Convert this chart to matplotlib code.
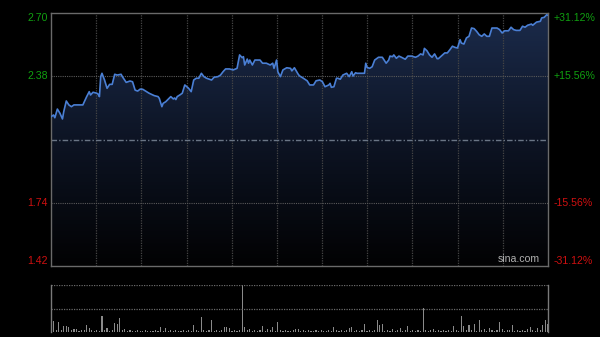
import numpy as np
import matplotlib
matplotlib.use("Agg")
import matplotlib.pyplot as plt
from matplotlib.colors import LinearSegmentedColormap

# minute of session / price
times = [0, 2, 3, 5, 7, 9, 10, 12, 14, 16, 18, 21, 25, 28, 30, 31, 33, 36, 37, 38,
         39, 40, 42, 44, 46, 48, 50, 52, 55, 56, 59, 62, 64, 66, 68, 70, 72, 75, 77, 81,
         84, 85, 87, 88, 90, 94, 96, 97, 98, 99, 101, 103, 105, 108, 110, 112, 114, 116, 118, 120,
         122, 126, 128, 131, 133, 135, 137, 140, 143, 146, 148, 150, 151, 152, 154, 155, 156, 158, 160, 164,
         166, 169, 172, 174, 175, 177, 178, 180, 182, 185, 188, 189, 191, 194, 195, 198, 201, 203, 206, 208,
         211, 213, 215, 218, 219, 220, 222, 224, 225, 227, 229, 232, 234, 236, 237, 239, 240, 246, 247, 248,
         250, 252, 254, 257, 260, 261, 263, 265, 266, 268, 269, 271, 273, 275, 278, 280, 283, 286, 288, 290,
         292, 293, 295, 297, 299, 301, 303, 304, 307, 309, 311, 313, 315, 317, 319, 321, 322, 324, 326, 328,
         330, 332, 334, 336, 338, 340, 342, 344, 346, 350, 352, 354, 356, 359, 361, 363, 365, 368, 370, 372,
         374, 377, 378, 381, 384, 385, 387, 389, 390]
prices = [2.175, 2.184, 2.170, 2.214, 2.193, 2.164, 2.201, 2.255, 2.235, 2.226, 2.235, 2.235, 2.235, 2.277, 2.302, 2.285, 2.299, 2.294, 2.289, 2.277,
          2.378, 2.395, 2.361, 2.319, 2.339, 2.339, 2.390, 2.386, 2.390, 2.378, 2.349, 2.356, 2.352, 2.310, 2.305, 2.315, 2.314, 2.302, 2.294, 2.282,
          2.277, 2.268, 2.226, 2.243, 2.251, 2.277, 2.265, 2.270, 2.262, 2.277, 2.285, 2.294, 2.336, 2.319, 2.302, 2.361, 2.370, 2.370, 2.395, 2.378,
          2.370, 2.361, 2.375, 2.378, 2.386, 2.403, 2.417, 2.417, 2.412, 2.420, 2.488, 2.474, 2.479, 2.437, 2.467, 2.446, 2.462, 2.437, 2.462, 2.462,
          2.446, 2.446, 2.437, 2.446, 2.420, 2.462, 2.403, 2.378, 2.412, 2.423, 2.420, 2.407, 2.423, 2.390, 2.382, 2.370, 2.357, 2.336, 2.336, 2.357,
          2.361, 2.352, 2.327, 2.336, 2.344, 2.324, 2.327, 2.370, 2.370, 2.365, 2.386, 2.395, 2.378, 2.403, 2.381, 2.398, 2.395, 2.395, 2.446, 2.425,
          2.420, 2.428, 2.462, 2.476, 2.476, 2.466, 2.446, 2.462, 2.482, 2.479, 2.488, 2.471, 2.482, 2.476, 2.466, 2.482, 2.482, 2.476, 2.482, 2.493,
          2.488, 2.521, 2.509, 2.488, 2.476, 2.493, 2.469, 2.469, 2.486, 2.498, 2.498, 2.514, 2.532, 2.526, 2.523, 2.565, 2.548, 2.543, 2.574, 2.582,
          2.624, 2.621, 2.607, 2.590, 2.582, 2.594, 2.582, 2.582, 2.624, 2.624, 2.616, 2.599, 2.610, 2.610, 2.628, 2.616, 2.612, 2.612, 2.633, 2.628,
          2.638, 2.644, 2.638, 2.654, 2.658, 2.675, 2.678, 2.691, 2.688]

# volume, one bar per 2 minutes
volumes = [12, 11, 2, 10, 2, 6, 6, 5, 2, 3, 3, 1, 2, 2, 7, 4, 2, 1, 2, 1,
           16, 2, 4, 1, 2, 9, 8, 14, 2, 3, 1, 2, 1, 1, 2, 1, 1, 2, 1, 1,
           1, 2, 1, 5, 1, 4, 1, 2, 1, 2, 1, 1, 2, 1, 2, 1, 7, 2, 1, 15,
           2, 1, 2, 12, 1, 2, 1, 2, 5, 5, 4, 1, 2, 1, 2, 48, 5, 2, 3, 1,
           2, 1, 2, 6, 1, 3, 2, 5, 1, 10, 2, 1, 2, 1, 1, 2, 3, 3, 1, 2,
           1, 2, 1, 1, 2, 1, 2, 1, 1, 2, 1, 5, 2, 1, 2, 1, 2, 4, 5, 1,
           2, 1, 2, 8, 1, 2, 1, 2, 12, 7, 8, 1, 2, 1, 3, 1, 2, 4, 1, 2,
           6, 1, 2, 1, 2, 1, 25, 2, 1, 2, 3, 1, 2, 1, 2, 1, 2, 1, 6, 2,
           1, 16, 6, 2, 7, 2, 8, 1, 12, 2, 3, 1, 4, 2, 1, 2, 10, 3, 1, 2,
           2, 7, 1, 2, 1, 2, 1, 3, 5, 2, 1, 4, 2, 7, 12, 8]

prev_close = 2.06
y_ticks = [2.70, 2.38, 1.74, 1.42]
pct_labels = ["+31.12%", "+15.56%", "-15.56%", "-31.12%"]
session = 390

GREEN = "#10a010"
RED = "#d01010"

fig = plt.figure(figsize=(6, 3.37), dpi=100, facecolor="black")
ax = fig.add_axes([51 / 600, 1 - 266 / 337, 497 / 600, 253 / 337])
axv = fig.add_axes([51 / 600, 1 - 332 / 337, 497 / 600, 47 / 337])

ax.set_facecolor("black")
ax.set_xlim(0, session)
ax.set_ylim(1.42, 2.70)

# gradient fill under the line
cmap = LinearSegmentedColormap.from_list("fill", ["#020203", "#0d1424", "#1b2b4b"])
grad = np.linspace(0, 1, 256).reshape(-1, 1)
img = ax.imshow(grad, extent=[0, session, 1.42, 2.70], origin="lower",
                aspect="auto", cmap=cmap, zorder=1)
poly = ax.fill_between(times, prices, 1.42, color="none", lw=0)
img.set_clip_path(poly.get_paths()[0], transform=ax.transData)

# grid
for k in range(1, 11):
    ax.axvline(session * k / 11, color="#454545", lw=0.9, ls=(0, (1, 1)), zorder=2)
for yv in [2.38, 1.74]:
    ax.axhline(yv, color="#5a5a5a", lw=0.8, ls=(0, (1, 1)), zorder=2)
ax.axhline(prev_close, color="#6a7585", lw=1.0, ls=(0, (4, 1.5, 1, 1.5)), zorder=2)

ax.plot(times, prices, color="#4a7fd4", lw=1.2, zorder=3)

ax.set_xticks([])
ax.set_yticks([])
for s in ax.spines.values():
    s.set_color("#6a6a6a")
    s.set_linewidth(1)

for i, (v, p) in enumerate(zip(y_ticks, pct_labels)):
    c = GREEN if v > prev_close else RED
    va = "top" if i == 0 else ("bottom" if i == 3 else "center")
    ax.text(-0.006, v, f"{v:.2f}", transform=ax.get_yaxis_transform(),
            ha="right", va=va, color=c, fontsize=7.6, family="Liberation Sans")
    ax.text(1.012, v, p, transform=ax.get_yaxis_transform(),
            ha="left", va=va, color=c, fontsize=7.6, family="Liberation Sans")

ax.text(0.983, 0.008, "sina.com", transform=ax.transAxes, ha="right", va="bottom",
        color="#b0b0b0", fontsize=7.6, family="Liberation Sans", zorder=4)

# volume panel
axv.set_facecolor("black")
vol_x = np.arange(len(volumes)) * 2
axv.bar(vol_x, volumes, width=0.9, color="#8a8a8a", linewidth=0)
axv.set_xlim(0, session)
axv.set_ylim(0, 48)
axv.axhline(48, color="#6a6a6a", lw=0.9, ls=(0, (1, 1)))
axv.axhline(24, color="#6a6a6a", lw=0.9, ls=(0, (1, 1)))
axv.set_xticks([])
axv.set_yticks([])
for name, s in axv.spines.items():
    s.set_color("#7a7a7a")
    s.set_linewidth(1)
    if name in ("top", "bottom"):
        s.set_visible(False)

fig.savefig("out.png", dpi=100, facecolor="black")
